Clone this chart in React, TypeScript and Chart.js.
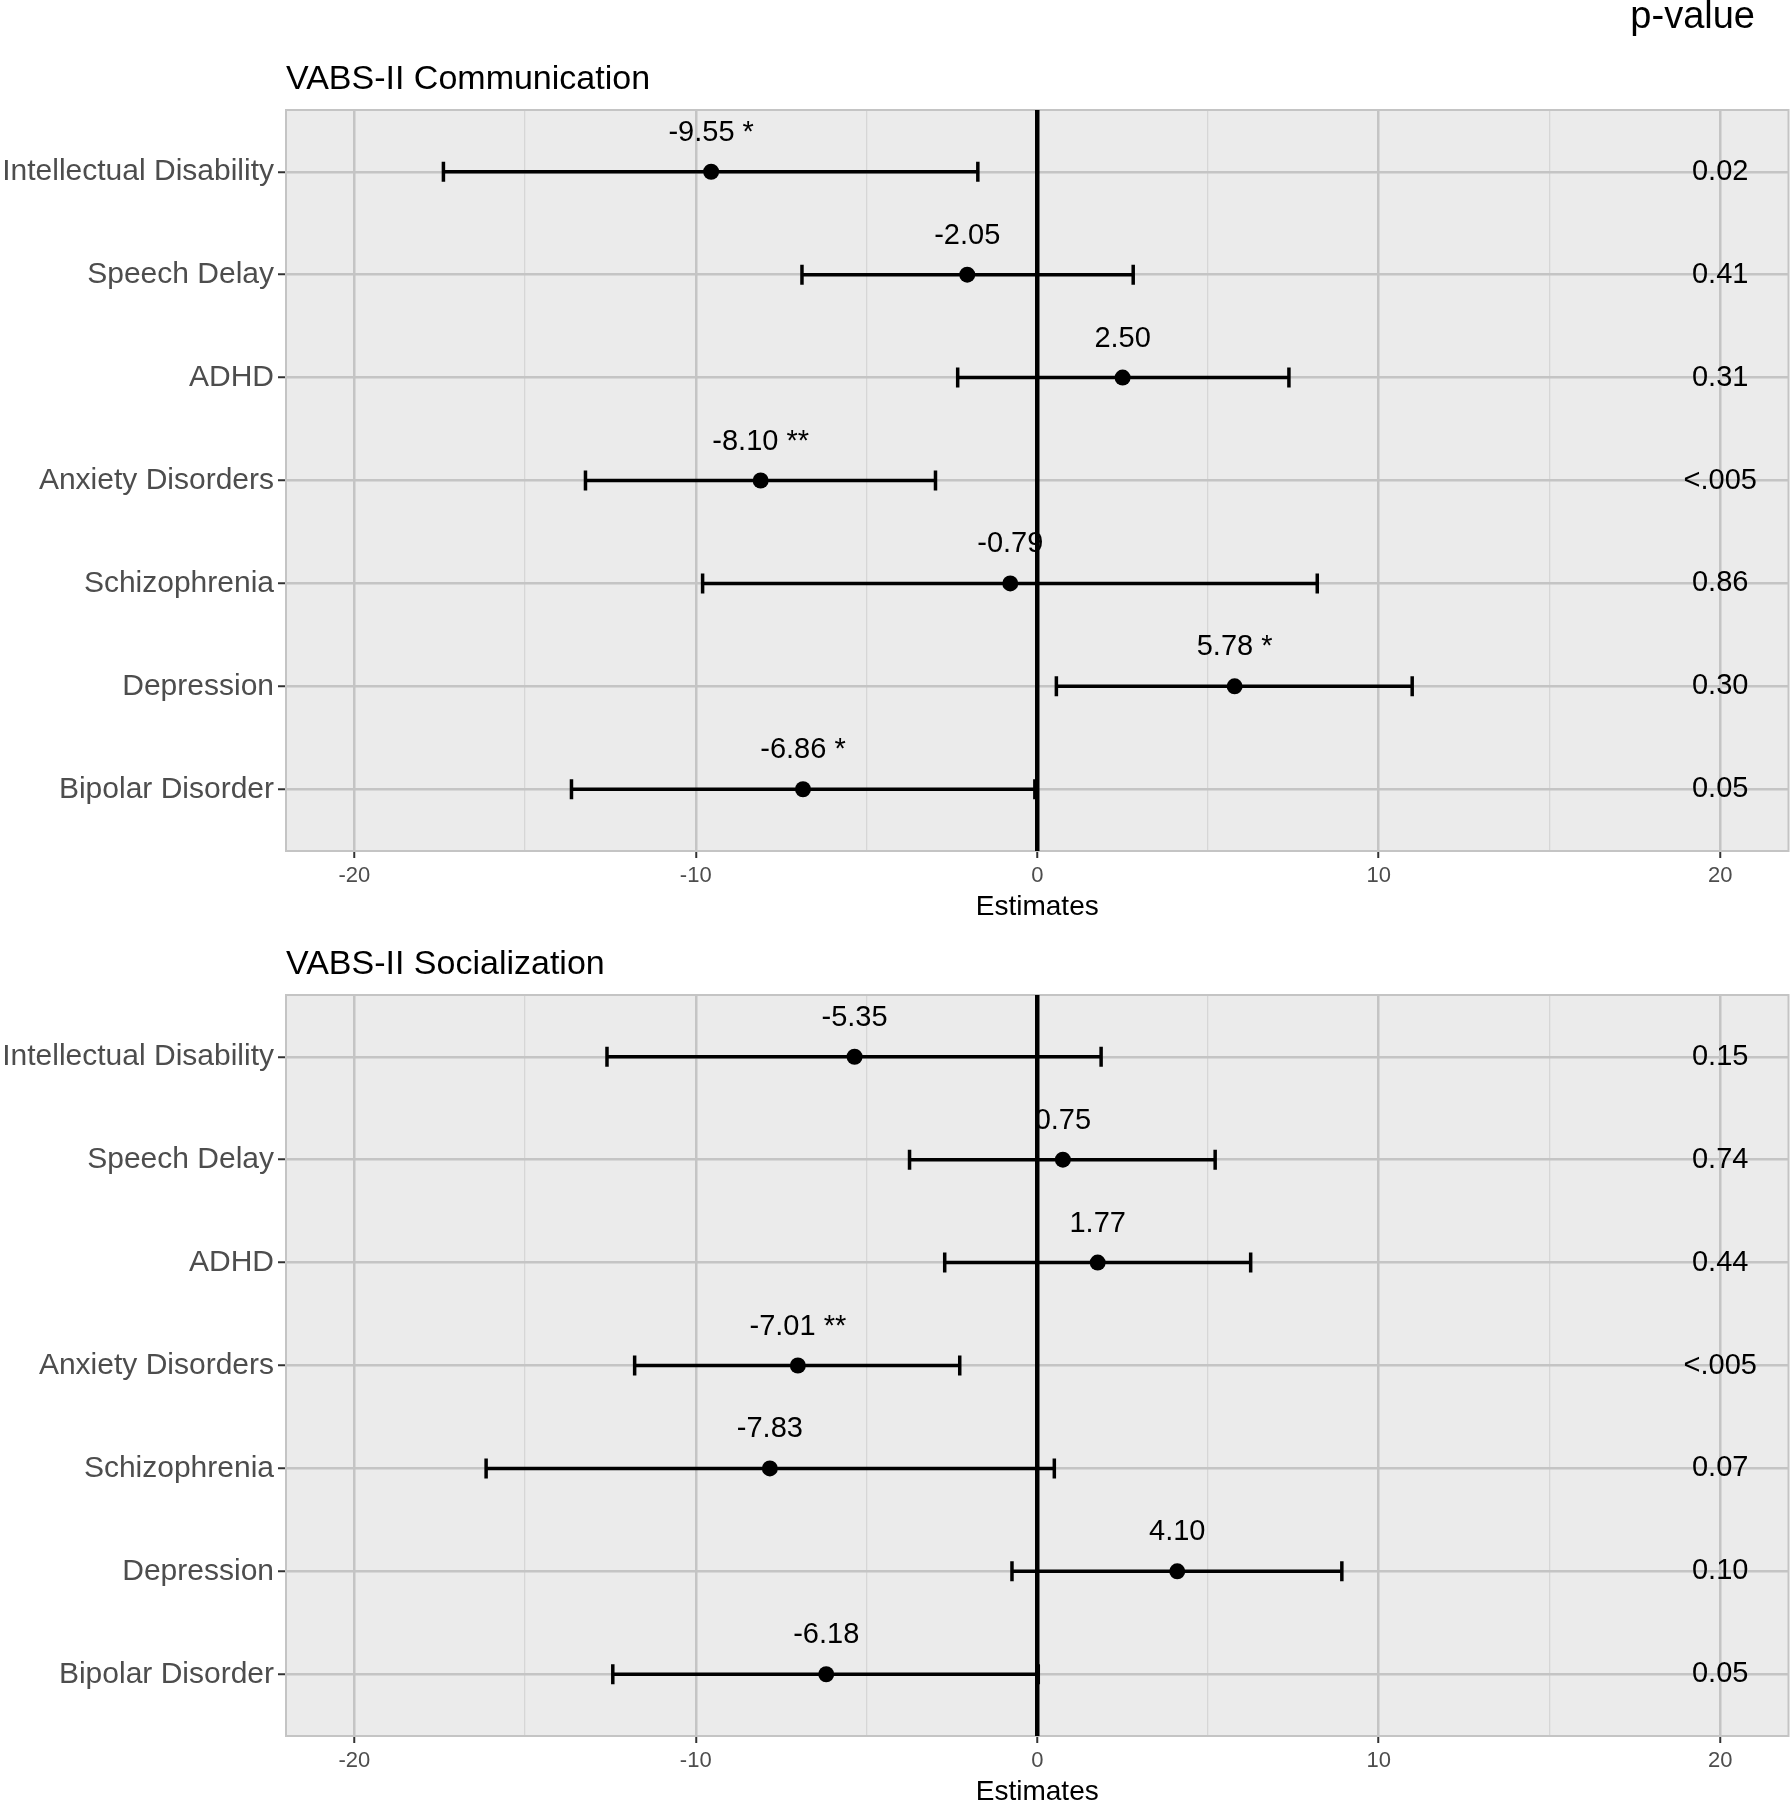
import React, { useEffect, useRef } from "react";
import { Chart, registerables } from "chart.js";

Chart.register(...registerables);

// ---------- data ----------
const categories = [
  "Intellectual Disability",
  "Speech Delay",
  "ADHD",
  "Anxiety Disorders",
  "Schizophrenia",
  "Depression",
  "Bipolar Disorder",
];

const commEstimates = [-9.55, -2.05, 2.5, -8.1, -0.79, 5.78, -6.86];
const commLower = [-17.39, -6.89, -2.33, -13.23, -9.8, 0.56, -13.64];
const commUpper = [-1.74, 2.81, 7.37, -2.98, 8.2, 10.98, -0.07];
const commStars = ["*", "", "", "**", "", "*", "*"];
const commPValues = ["0.02", "0.41", "0.31", "<.005", "0.86", "0.30", "0.05"];

const socEstimates = [-5.35, 0.75, 1.77, -7.01, -7.83, 4.1, -6.18];
const socLower = [-12.6, -3.74, -2.71, -11.79, -16.14, -0.74, -12.43];
const socUpper = [1.87, 5.21, 6.25, -2.27, 0.5, 8.92, 0.03];
const socStars = ["", "", "", "**", "", "", ""];
const socPValues = ["0.15", "0.74", "0.44", "<.005", "0.07", "0.10", "0.05"];

const xTicks = [-20, -15, -10, -5, 0, 5, 10, 15, 20];
const X_MIN = -22;
const X_MAX = 22;
const Y_MIN = 0.4;
const Y_MAX = 7.6;
const P_VALUE_X = 20;

const FONT = '"Liberation Sans", Arial, Helvetica, sans-serif';
const CANVAS_W = 1802;

type PanelSpec = {
  title: string;
  est: number[];
  lo: number[];
  hi: number[];
  stars: string[];
  pv: string[];
  showPHeader: boolean;
  padTop: number;
  padBottom: number;
};

function makeConfig(spec: PanelSpec): any {
  const { title, est, lo, hi, stars, pv, showPHeader, padTop, padBottom } = spec;
  const rows = categories.map((_, i) => i + 1);

  const ciData: any[] = [];
  rows.forEach((r, i) => {
    ciData.push({ x: lo[i], y: r }, { x: hi[i], y: r }, { x: null, y: null });
  });

  const deco = {
    id: "panelDeco",
    beforeDraw(chart: any) {
      const { ctx, chartArea: a } = chart;
      ctx.save();
      ctx.fillStyle = "#EBEBEB";
      ctx.fillRect(a.left, a.top, a.right - a.left, a.bottom - a.top);
      ctx.restore();
    },
    beforeDatasetsDraw(chart: any) {
      const { ctx, chartArea: a, scales } = chart;
      const xs = scales.x;
      const ys = scales.y;
      ctx.save();
      ctx.strokeStyle = "#C4C4C4";
      ctx.lineWidth = 2;
      ctx.strokeRect(a.left, a.top, a.right - a.left, a.bottom - a.top);

      ctx.fillStyle = "#000";
      ctx.textBaseline = "middle";
      ctx.font = `34px ${FONT}`;
      ctx.textAlign = "left";
      ctx.fillText(title, a.left, a.top - 30);

      if (showPHeader) {
        ctx.font = `38px ${FONT}`;
        ctx.textAlign = "right";
        ctx.fillText("p-value", 1755, 18);
      }

      ctx.font = `29px ${FONT}`;
      ctx.textAlign = "center";
      rows.forEach((r, i) => {
        const y = ys.getPixelForValue(r);
        const label = est[i].toFixed(2) + (stars[i] ? " " + stars[i] : "");
        ctx.fillText(label, xs.getPixelForValue(est[i]), y - 39);
        ctx.fillText(pv[i], xs.getPixelForValue(P_VALUE_X), y);
      });
      ctx.restore();
    },
  };

  const isMajor = (c: any) => c && c.tick && Math.abs(c.tick.value % 10) < 1e-9;

  return {
    type: "scatter",
    data: {
      datasets: [
        {
          label: "zero",
          data: [
            { x: 0, y: Y_MIN },
            { x: 0, y: Y_MAX },
          ],
          showLine: true,
          borderColor: "#000",
          borderWidth: 4.5,
          pointRadius: 0,
          pointHoverRadius: 0,
          order: 0,
        },
        {
          label: "estimate",
          data: est.map((v, i) => ({ x: v, y: i + 1 })),
          pointRadius: 8,
          pointHoverRadius: 8,
          pointBackgroundColor: "#000",
          pointBorderColor: "#000",
          pointBorderWidth: 0,
          showLine: false,
          order: 1,
        },
        {
          label: "ci",
          data: ciData,
          showLine: true,
          spanGaps: false,
          borderColor: "#000",
          borderWidth: 3.5,
          borderCapStyle: "butt",
          pointStyle: "line",
          pointRotation: 90,
          pointRadius: 10,
          pointHoverRadius: 10,
          pointBorderWidth: 3.5,
          pointBorderColor: "#000",
          pointBackgroundColor: "#000",
          order: 2,
        },
      ],
    },
    options: {
      animation: false,
      responsive: false,
      devicePixelRatio: 1,
      events: [],
      layout: { padding: { top: padTop, right: 0, left: 0, bottom: padBottom } },
      plugins: {
        legend: { display: false },
        tooltip: { enabled: false },
        title: { display: false },
      },
      scales: {
        x: {
          type: "linear",
          min: X_MIN,
          max: X_MAX,
          afterBuildTicks: (s: any) => {
            s.ticks = xTicks.map((v) => ({ value: v }));
          },
          afterFit: (s: any) => {
            s.height = 74;
          },
          border: { display: false },
          grid: {
            color: (c: any) => (isMajor(c) ? "#C4C4C4" : "#D6D6D6"),
            lineWidth: (c: any) => (isMajor(c) ? 2.5 : 1.3),
            tickColor: (c: any) => (isMajor(c) ? "#333333" : "rgba(0,0,0,0)"),
            tickLength: 7,
            tickWidth: 2,
            drawTicks: true,
          },
          ticks: {
            autoSkip: false,
            maxRotation: 0,
            minRotation: 0,
            color: "#4D4D4D",
            font: { family: FONT, size: 22 },
            padding: 5,
            callback: (v: any) => (Math.abs(v % 10) < 1e-9 ? String(v) : ""),
          },
          title: {
            display: true,
            text: "Estimates",
            color: "#000",
            font: { family: FONT, size: 28 },
            padding: { top: 0, bottom: 1 },
          },
        },
        y: {
          type: "linear",
          min: Y_MIN,
          max: Y_MAX,
          reverse: true,
          afterBuildTicks: (s: any) => {
            s.ticks = categories.map((_, i) => ({ value: i + 1 }));
          },
          afterFit: (s: any) => {
            s.width = 286;
          },
          border: { display: false },
          grid: {
            color: "#C4C4C4",
            lineWidth: 2.5,
            tickColor: "#333333",
            tickLength: 8,
            tickWidth: 2,
            drawTicks: true,
          },
          ticks: {
            autoSkip: false,
            color: "#4D4D4D",
            font: { family: FONT, size: 30 },
            padding: 4,
            callback: (v: any) => categories[Math.round(v) - 1] ?? "",
          },
        },
      },
    },
    plugins: [deco],
  };
}

export default function App() {
  const ref1 = useRef<HTMLCanvasElement>(null);
  const ref2 = useRef<HTMLCanvasElement>(null);

  useEffect(() => {
    const c1 = new Chart(
      ref1.current as HTMLCanvasElement,
      makeConfig({
        title: "VABS-II Communication",
        est: commEstimates,
        lo: commLower,
        hi: commUpper,
        stars: commStars,
        pv: commPValues,
        showPHeader: true,
        padTop: 110,
        padBottom: 0,
      })
    );
    const c2 = new Chart(
      ref2.current as HTMLCanvasElement,
      makeConfig({
        title: "VABS-II Socialization",
        est: socEstimates,
        lo: socLower,
        hi: socUpper,
        stars: socStars,
        pv: socPValues,
        showPHeader: false,
        padTop: 70,
        padBottom: 15,
      })
    );
    return () => {
      c1.destroy();
      c2.destroy();
    };
  }, []);

  return (
    <div
      style={{
        position: "absolute",
        left: 0,
        top: 0,
        width: 1790,
        height: 1800,
        overflow: "hidden",
        background: "#fff",
      }}
    >
      <canvas
        ref={ref1}
        width={CANVAS_W}
        height={925}
        style={{ position: "absolute", left: 0, top: 0, width: CANVAS_W, height: 925 }}
      />
      <canvas
        ref={ref2}
        width={CANVAS_W}
        height={900}
        style={{ position: "absolute", left: 0, top: 925, width: CANVAS_W, height: 900 }}
      />
    </div>
  );
}
